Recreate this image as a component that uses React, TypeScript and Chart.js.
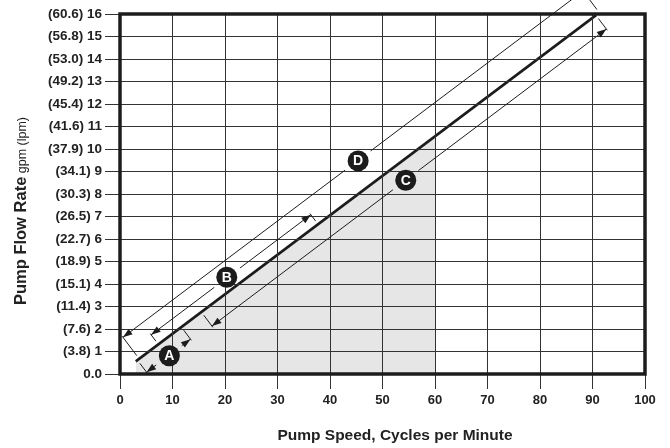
import React, { useEffect, useRef } from 'react';
import { Chart, registerables } from 'chart.js';

Chart.register(...registerables);

// ---- data ----
const xTicks = [0, 10, 20, 30, 40, 50, 60, 70, 80, 90, 100];
const gpmTicks = [0, 1, 2, 3, 4, 5, 6, 7, 8, 9, 10, 11, 12, 13, 14, 15, 16];
const lpmTicks = ['0.0', '3.8', '7.6', '11.4', '15.1', '18.9', '22.7', '26.5', '30.3', '34.1', '37.9', '41.6', '45.4', '49.2', '53.0', '56.8', '60.6'];

const mainX = [3.0, 90.7];
const mainY = [0.56, 15.95];

const shadeX = [3.0, 60];
const shadeY = [0.56, 10.6];

const dimLabels = ['A', 'B', 'C', 'D'];
const dimStartX = [5.06, 5.93, 17.51, 0.57];
const dimStartY = [0.08, 1.74, 2.13, 1.63];
const dimEndX = [13.42, 36.35, 92.64, 88.2];
const dimEndY = [1.55, 7.08, 15.33, 17.02];
const markerX = [9.4, 20.34, 54.43, 45.36];
const markerY = [0.81, 4.3, 8.61, 9.47];

const xTitle = 'Pump Speed, Cycles per Minute';
const yTitleBold = 'Pump Flow Rate';
const yTitleRegular = ' gpm (lpm)';

const INK = '#1c1c1c';
const SANS = "'Liberation Sans', Arial, Helvetica, sans-serif";

function arrowHead(ctx: CanvasRenderingContext2D, px: number, py: number, ux: number, uy: number) {
  const len = 9.5;
  const hw = 3.4;
  const bx = px - ux * len;
  const by = py - uy * len;
  ctx.beginPath();
  ctx.moveTo(px, py);
  ctx.lineTo(bx - uy * hw, by + ux * hw);
  ctx.lineTo(bx + uy * hw, by - ux * hw);
  ctx.closePath();
  ctx.fill();
}

const annotPlugin = {
  id: 'annotations',
  afterDraw(chart: any) {
    const { ctx, chartArea: a } = chart;
    const xs = chart.scales.x;
    const ys = chart.scales.y;
    const px = (vx: number, vy: number) => ({ x: xs.getPixelForValue(vx), y: ys.getPixelForValue(vy) });

    ctx.save();
    // thick frame
    ctx.strokeStyle = INK;
    ctx.lineWidth = 3.5;
    ctx.strokeRect(a.left, a.top, a.right - a.left, a.bottom - a.top);

    // main line geometry (for extension ticks)
    const m0 = px(mainX[0], mainY[0]);
    const m1 = px(mainX[1], mainY[1]);
    const mL = Math.hypot(m1.x - m0.x, m1.y - m0.y);
    const mux = (m1.x - m0.x) / mL;
    const muy = (m1.y - m0.y) / mL;
    const nx = -muy;
    const ny = mux;

    ctx.strokeStyle = INK;
    ctx.fillStyle = INK;
    ctx.lineWidth = 1;
    for (let i = 0; i < dimLabels.length; i++) {
      const S = px(dimStartX[i], dimStartY[i]);
      const E = px(dimEndX[i], dimEndY[i]);
      const C = px(markerX[i], markerY[i]);
      const L = Math.hypot(E.x - S.x, E.y - S.y);
      const ux = (E.x - S.x) / L;
      const uy = (E.y - S.y) / L;
      const tc = (C.x - S.x) * ux + (C.y - S.y) * uy;
      const gap = 16;
      ctx.beginPath();
      if (tc - gap > 0) {
        ctx.moveTo(S.x, S.y);
        ctx.lineTo(S.x + ux * (tc - gap), S.y + uy * (tc - gap));
      }
      if (tc + gap < L) {
        ctx.moveTo(S.x + ux * (tc + gap), S.y + uy * (tc + gap));
        ctx.lineTo(E.x, E.y);
      }
      // extension ticks toward the main line
      for (const P of [S, E]) {
        const d = (P.x - m0.x) * nx + (P.y - m0.y) * ny;
        const s = Math.sign(d);
        const back = d - s * 4;
        ctx.moveTo(P.x + nx * s * 1.5, P.y + ny * s * 1.5);
        ctx.lineTo(P.x - nx * back, P.y - ny * back);
      }
      ctx.stroke();
      arrowHead(ctx, S.x, S.y, -ux, -uy);
      arrowHead(ctx, E.x, E.y, ux, uy);
    }

    // letter markers
    for (let i = 0; i < dimLabels.length; i++) {
      const C = px(markerX[i], markerY[i]);
      ctx.fillStyle = INK;
      ctx.beginPath();
      ctx.arc(C.x, C.y, 10.5, 0, Math.PI * 2);
      ctx.fill();
      ctx.fillStyle = '#ffffff';
      ctx.font = `bold 14px ${SANS}`;
      ctx.textAlign = 'center';
      ctx.textBaseline = 'middle';
      ctx.fillText(dimLabels[i], C.x, C.y + 0.5);
    }

    // x title
    ctx.fillStyle = '#222';
    ctx.font = `bold 15.5px ${SANS}`;
    ctx.textAlign = 'center';
    ctx.textBaseline = 'middle';
    ctx.fillText(xTitle, 395, 436);

    // y title (rotated, mixed styles)
    ctx.translate(21.5, 211);
    ctx.rotate(-Math.PI / 2);
    ctx.textBaseline = 'middle';
    ctx.textAlign = 'left';
    ctx.font = `bold 16.5px ${SANS}`;
    const w1 = ctx.measureText(yTitleBold).width;
    ctx.font = `12.5px ${SANS}`;
    const w2 = ctx.measureText(yTitleRegular).width;
    const start = -(w1 + w2) / 2;
    ctx.font = `bold 16.5px ${SANS}`;
    ctx.fillText(yTitleBold, start, 0);
    ctx.font = `12.5px ${SANS}`;
    ctx.fillText(yTitleRegular, start + w1, 1);
    ctx.restore();
  },
};

export default function App() {
  const canvasRef = useRef<HTMLCanvasElement | null>(null);

  useEffect(() => {
    const canvas = canvasRef.current;
    if (!canvas) return;
    const chart = new Chart(canvas, {
      type: 'line',
      data: {
        datasets: [
          {
            data: shadeX.map((v, i) => ({ x: v, y: shadeY[i] })),
            fill: 'origin',
            backgroundColor: '#e6e6e6',
            borderColor: 'rgba(0,0,0,0)',
            borderWidth: 0,
            pointRadius: 0,
            order: 2,
          },
          {
            data: mainX.map((v, i) => ({ x: v, y: mainY[i] })),
            fill: false,
            borderColor: INK,
            borderWidth: 2.6,
            pointRadius: 0,
            order: 1,
          },
        ],
      },
      options: {
        animation: false,
        responsive: true,
        maintainAspectRatio: false,
        layout: { padding: { top: 14, right: 25, left: 0, bottom: 0 } },
        plugins: {
          legend: { display: false },
          tooltip: { enabled: false },
        },
        scales: {
          x: {
            type: 'linear',
            min: 0,
            max: 100,
            afterBuildTicks: (s: any) => {
              s.ticks = xTicks.map((v) => ({ value: v }));
            },
            afterFit: (s: any) => {
              s.height = 74;
              s.paddingLeft = 0;
              s.paddingRight = 0;
            },
            ticks: {
              autoSkip: false,
              maxRotation: 0,
              padding: 4,
              color: '#222',
              font: { family: SANS, size: 13, weight: 'bold' },
            },
            grid: { z: 1, color: '#333333', lineWidth: 1, tickLength: 15, drawTicks: true },
            border: { display: false },
          },
          y: {
            min: 0,
            max: 16,
            afterBuildTicks: (s: any) => {
              s.ticks = gpmTicks.map((v) => ({ value: v }));
            },
            afterFit: (s: any) => {
              s.width = 120;
              s.paddingTop = 0;
              s.paddingBottom = 0;
            },
            ticks: {
              autoSkip: false,
              padding: 3,
              color: '#222',
              font: { family: SANS, size: 13.5, weight: 'bold' },
              callback: (v: any) => {
                const i = gpmTicks.indexOf(Number(v));
                if (i === 0) return lpmTicks[0];
                return `(${lpmTicks[i]}) ${gpmTicks[i]}`;
              },
            },
            grid: { z: 1, color: '#333333', lineWidth: 1, tickLength: 15, drawTicks: true },
            border: { display: false },
          },
        },
      },
      plugins: [annotPlugin],
    } as any);
    return () => chart.destroy();
  }, []);

  return (
    <div style={{ position: 'absolute', left: 0, top: 0, width: 670, height: 448, background: '#fff' }}>
      <canvas ref={canvasRef} />
    </div>
  );
}
